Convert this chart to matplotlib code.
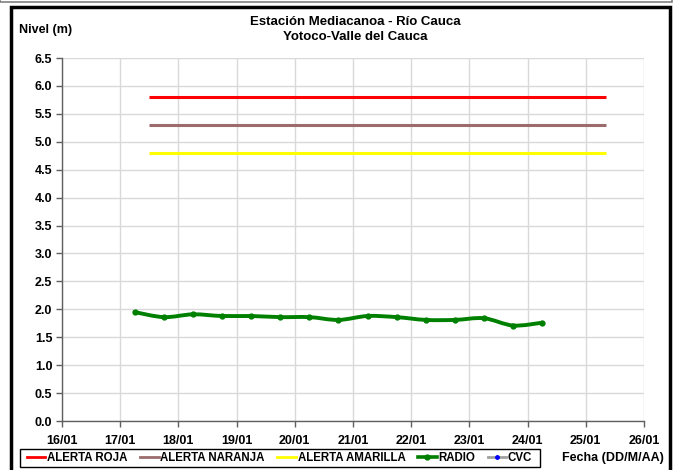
import matplotlib
matplotlib.use("Agg")
import matplotlib.pyplot as plt
from matplotlib.path import Path
from matplotlib.patches import PathPatch, Rectangle
from matplotlib.lines import Line2D
import numpy as np

# ---- data ----
title_lines = ["Estación Mediacanoa - Río Cauca", "Yotoco-Valle del Cauca"]
x_ticks = [16, 17, 18, 19, 20, 21, 22, 23, 24, 25, 26]
x_tick_labels = ["16/01", "17/01", "18/01", "19/01", "20/01", "21/01",
                 "22/01", "23/01", "24/01", "25/01", "26/01"]
y_ticks = [0.0, 0.5, 1.0, 1.5, 2.0, 2.5, 3.0, 3.5, 4.0, 4.5, 5.0, 5.5, 6.0, 6.5]

alert_x = [17.5, 25.35]
alerta_roja = [5.8, 5.8]
alerta_naranja = [5.3, 5.3]
alerta_amarilla = [4.8, 4.8]

radio_x = [17.25, 17.75, 18.25, 18.75, 19.25, 19.75, 20.25, 20.75,
           21.25, 21.75, 22.25, 22.75, 23.25, 23.75, 24.25]
radio_y = [1.95, 1.86, 1.91, 1.88, 1.88, 1.86, 1.86, 1.81,
           1.88, 1.86, 1.81, 1.81, 1.84, 1.71, 1.76]

cvc_x = []
cvc_y = []

FONT = ["Liberation Sans", "DejaVu Sans"]

fig = plt.figure(figsize=(6.84, 4.70), dpi=100)
W, H = 684, 470

ax = fig.add_axes([62 / W, 1 - 421 / H, (644 - 62) / W, (421 - 58) / H])
ax.set_xlim(16, 26)
ax.set_ylim(0, 6.5)
ax.set_xticks(x_ticks)
ax.set_xticklabels(x_tick_labels)
ax.set_yticks(y_ticks)
ax.set_yticklabels([f"{v:.1f}" for v in y_ticks])
for lab in ax.get_xticklabels() + ax.get_yticklabels():
    lab.set_fontfamily(FONT)
    lab.set_fontweight("bold")
    lab.set_fontsize(9)
ax.tick_params(axis="both", direction="out", length=4, width=1, color="#606060", pad=3)
ax.tick_params(axis="x", pad=6)
ax.grid(True, color="#d9d9d9", lw=1)
ax.set_axisbelow(True)
for s in ["top", "right"]:
    ax.spines[s].set_visible(False)
for s in ["left", "bottom"]:
    ax.spines[s].set_color("#606060")
    ax.spines[s].set_linewidth(1)

# alert lines
ax.plot(alert_x, alerta_roja, color="#ff0000", lw=2.2, solid_capstyle="butt")
ax.plot(alert_x, alerta_naranja, color="#9c6b6b", lw=2.2, solid_capstyle="butt")
ax.plot(alert_x, alerta_amarilla, color="#ffff00", lw=2.2, solid_capstyle="butt")

# smooth radio line (Catmull-Rom to Bezier)
def smooth_path(xs, ys, t=1 / 6):
    pts = np.column_stack([xs, ys])
    verts = [pts[0]]
    codes = [Path.MOVETO]
    n = len(pts)
    for i in range(n - 1):
        p0 = pts[i - 1] if i > 0 else pts[i]
        p1 = pts[i]
        p2 = pts[i + 1]
        p3 = pts[i + 2] if i + 2 < n else pts[i + 1]
        c1 = p1 + (p2 - p0) * t
        c2 = p2 - (p3 - p1) * t
        verts += [c1, c2, p2]
        codes += [Path.CURVE4] * 3
    return Path(verts, codes)

ax.add_patch(PathPatch(smooth_path(radio_x, radio_y), fill=False,
                       edgecolor="#008000", lw=2.8, capstyle="round"))
ax.plot(radio_x, radio_y, ls="none", marker="o", ms=3.5, color="#008000")
ax.plot(cvc_x, cvc_y, color="#a0a0a0", marker="o", ms=3, mfc="#0000ff", mec="#0000ff")

# titles
fig.text(355 / W, 1 - 22 / H, title_lines[0], ha="center", va="center",
         fontsize=9.5, fontweight="bold", family=FONT)
fig.text(355 / W, 1 - 37 / H, title_lines[1], ha="center", va="center",
         fontsize=9.5, fontweight="bold", family=FONT)
fig.text(19 / W, 1 - 30 / H, "Nivel (m)", ha="left", va="center",
         fontsize=9, fontweight="bold", family=FONT)
fig.text(664 / W, 1 - 458 / H, "Fecha (DD/M/AA)", ha="right", va="center",
         fontsize=9, fontweight="bold", family=FONT)

# legend
handles = [
    Line2D([], [], color="#ff0000", lw=2),
    Line2D([], [], color="#9c6b6b", lw=2),
    Line2D([], [], color="#ffff00", lw=2),
    Line2D([], [], color="#008000", lw=2.6, marker="o", ms=3.5),
    Line2D([], [], color="#a0a0a0", lw=2, marker="o", ms=2.5, mfc="#0000ff", mec="#0000ff"),
]
labels = ["ALERTA ROJA", "ALERTA NARANJA", "ALERTA AMARILLA", "RADIO", "CVC"]
leg = fig.legend(handles, labels, loc="center left", bbox_to_anchor=(27 / W, 1 - 458 / H),
                 ncol=5, frameon=False,
                 handlelength=1.6, handletextpad=0.15, columnspacing=1.1,
                 borderpad=0.0, borderaxespad=0,
                 prop={"family": FONT, "weight": "bold", "size": 8.3})
fig.patches.append(Rectangle((20 / W, 1 - 467 / H), (540 - 20) / W, 18 / H,
                             transform=fig.transFigure, fill=False,
                             edgecolor="black", lw=1))

# outer frames
fig.patches.append(Rectangle((11 / W, -0.05), (670 - 11) / W, (1 - 7 / H) + 0.05,
                             transform=fig.transFigure, fill=False,
                             edgecolor="black", lw=2.5))
fig.patches.append(Rectangle((0, 1 - 1.5 / H), 672 / W, 0.1,
                             transform=fig.transFigure, fill=False,
                             edgecolor="#808080", lw=1.2))

fig.savefig("out.png", dpi=100)
